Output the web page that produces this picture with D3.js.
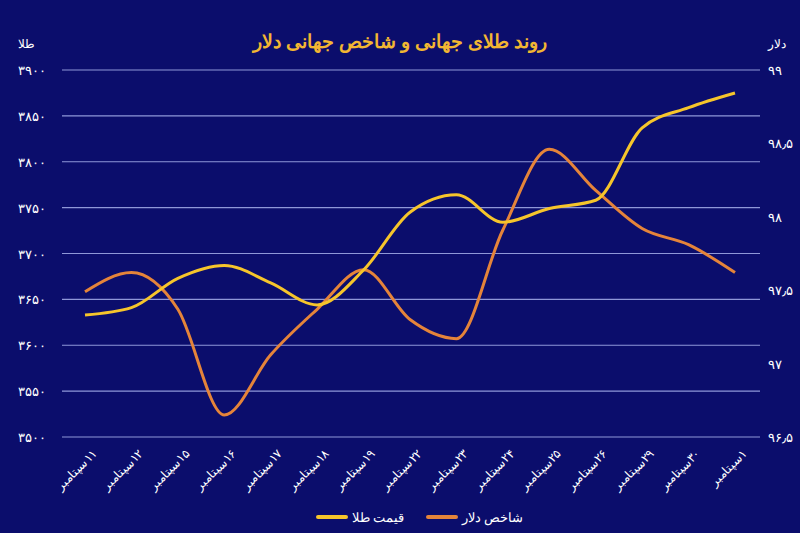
<!DOCTYPE html><html><head><meta charset="utf-8"><script src="https://cdn.jsdelivr.net/npm/d3@7"></script>
<style>body{margin:0;background:#0b0f6b}svg{display:block}</style></head><body><svg id="c" width="800" height="533"></svg>
<script>
const dates=["۱۱سپتامبر","۱۲سپتامبر","۱۵سپتامبر","۱۶سپتامبر","۱۷سپتامبر","۱۸سپتامبر","۱۹سپتامبر","۲۲سپتامبر","۲۳سپتامبر","۲۴سپتامبر","۲۵سپتامبر","۲۶سپتامبر","۲۹سپتامبر","۳۰سپتامبر","۱سپتامبر"];
const gold=[3633,3641,3673,3687,3668,3644,3682,3745,3764,3734,3749,3758,3837,3859,3875];
const dollar=[97.49,97.62,97.37,96.65,97.06,97.37,97.64,97.30,97.17,97.91,98.46,98.18,97.92,97.81,97.62];
const goldTicks=[3500,3550,3600,3650,3700,3750,3800,3850,3900];
const dollarTicks=[96.5,97,97.5,98,98.5,99];
const fa=s=>String(s).replace(/\d/g,d=>"۰۱۲۳۴۵۶۷۸۹"[d]);
const svg=d3.select("#c");
svg.append("rect").attr("width",800).attr("height",533).attr("fill","#0b0d6c");
const x=d3.scalePoint().domain(d3.range(dates.length)).range([85,735]);
const yg=d3.scaleLinear().domain([3500,3900]).range([437,70]);
const yd=d3.scaleLinear().domain([96.5,99]).range([437,70]);
svg.selectAll(".g").data(goldTicks).join("line").attr("x1",62).attr("x2",760).attr("y1",d=>yg(d)).attr("y2",d=>yg(d)).attr("stroke","#8f97d8").attr("stroke-width",1.2);
svg.selectAll(".gl").data(goldTicks).join("text").attr("x",18).attr("y",d=>yg(d)+5).text(d=>fa(d)).attr("fill","#fff").attr("font-family","Noto Sans").attr("font-size",13);
svg.selectAll(".dl").data(dollarTicks).join("text").attr("x",768).attr("y",d=>yd(d)+5).text(d=>fa(d).replace(".","٫")).attr("fill","#fff").attr("font-family","Noto Sans").attr("font-size",13);
svg.append("text").attr("x",18).attr("y",48).text("طلا").attr("fill","#fff").attr("font-family","Noto Sans").attr("font-size",12);
svg.append("text").attr("x",768).attr("y",48).text("دلار").attr("fill","#fff").attr("font-family","Noto Sans").attr("font-size",12);
svg.append("text").attr("x",400).attr("y",48).attr("text-anchor","middle").text("روند طلای جهانی و شاخص جهانی دلار").attr("fill","#f2b632").attr("font-family","Noto Sans").attr("font-weight","bold").attr("font-size",19);
const lg=d3.line().x((d,i)=>x(i)).y(d=>yg(d)).curve(d3.curveMonotoneX);
const ld=d3.line().x((d,i)=>x(i)).y(d=>yd(d)).curve(d3.curveMonotoneX);
svg.append("path").attr("d",ld(dollar)).attr("fill","none").attr("stroke","#e5843a").attr("stroke-width",3);
svg.append("path").attr("d",lg(gold)).attr("fill","none").attr("stroke","#f6c52b").attr("stroke-width",3);
svg.selectAll(".xl").data(dates).join("text").attr("direction","rtl").attr("transform",(d,i)=>`translate(${x(i)+12},${455}) rotate(-45)`).attr("text-anchor","start").text(d=>d).attr("fill","#fff").attr("font-family","Noto Sans").attr("font-size",12);
svg.append("line").attr("x1",318).attr("x2",346).attr("y1",517).attr("y2",517).attr("stroke","#f6c52b").attr("stroke-width",4).attr("stroke-linecap","round");
svg.append("text").attr("x",352).attr("y",522).text("قیمت طلا").attr("fill","#fff").attr("font-family","Noto Sans").attr("font-size",13);
svg.append("line").attr("x1",428).attr("x2",456).attr("y1",517).attr("y2",517).attr("stroke","#e5843a").attr("stroke-width",4).attr("stroke-linecap","round");
svg.append("text").attr("x",462).attr("y",522).text("شاخص دلار").attr("fill","#fff").attr("font-family","Noto Sans").attr("font-size",13);
</script></body></html>
